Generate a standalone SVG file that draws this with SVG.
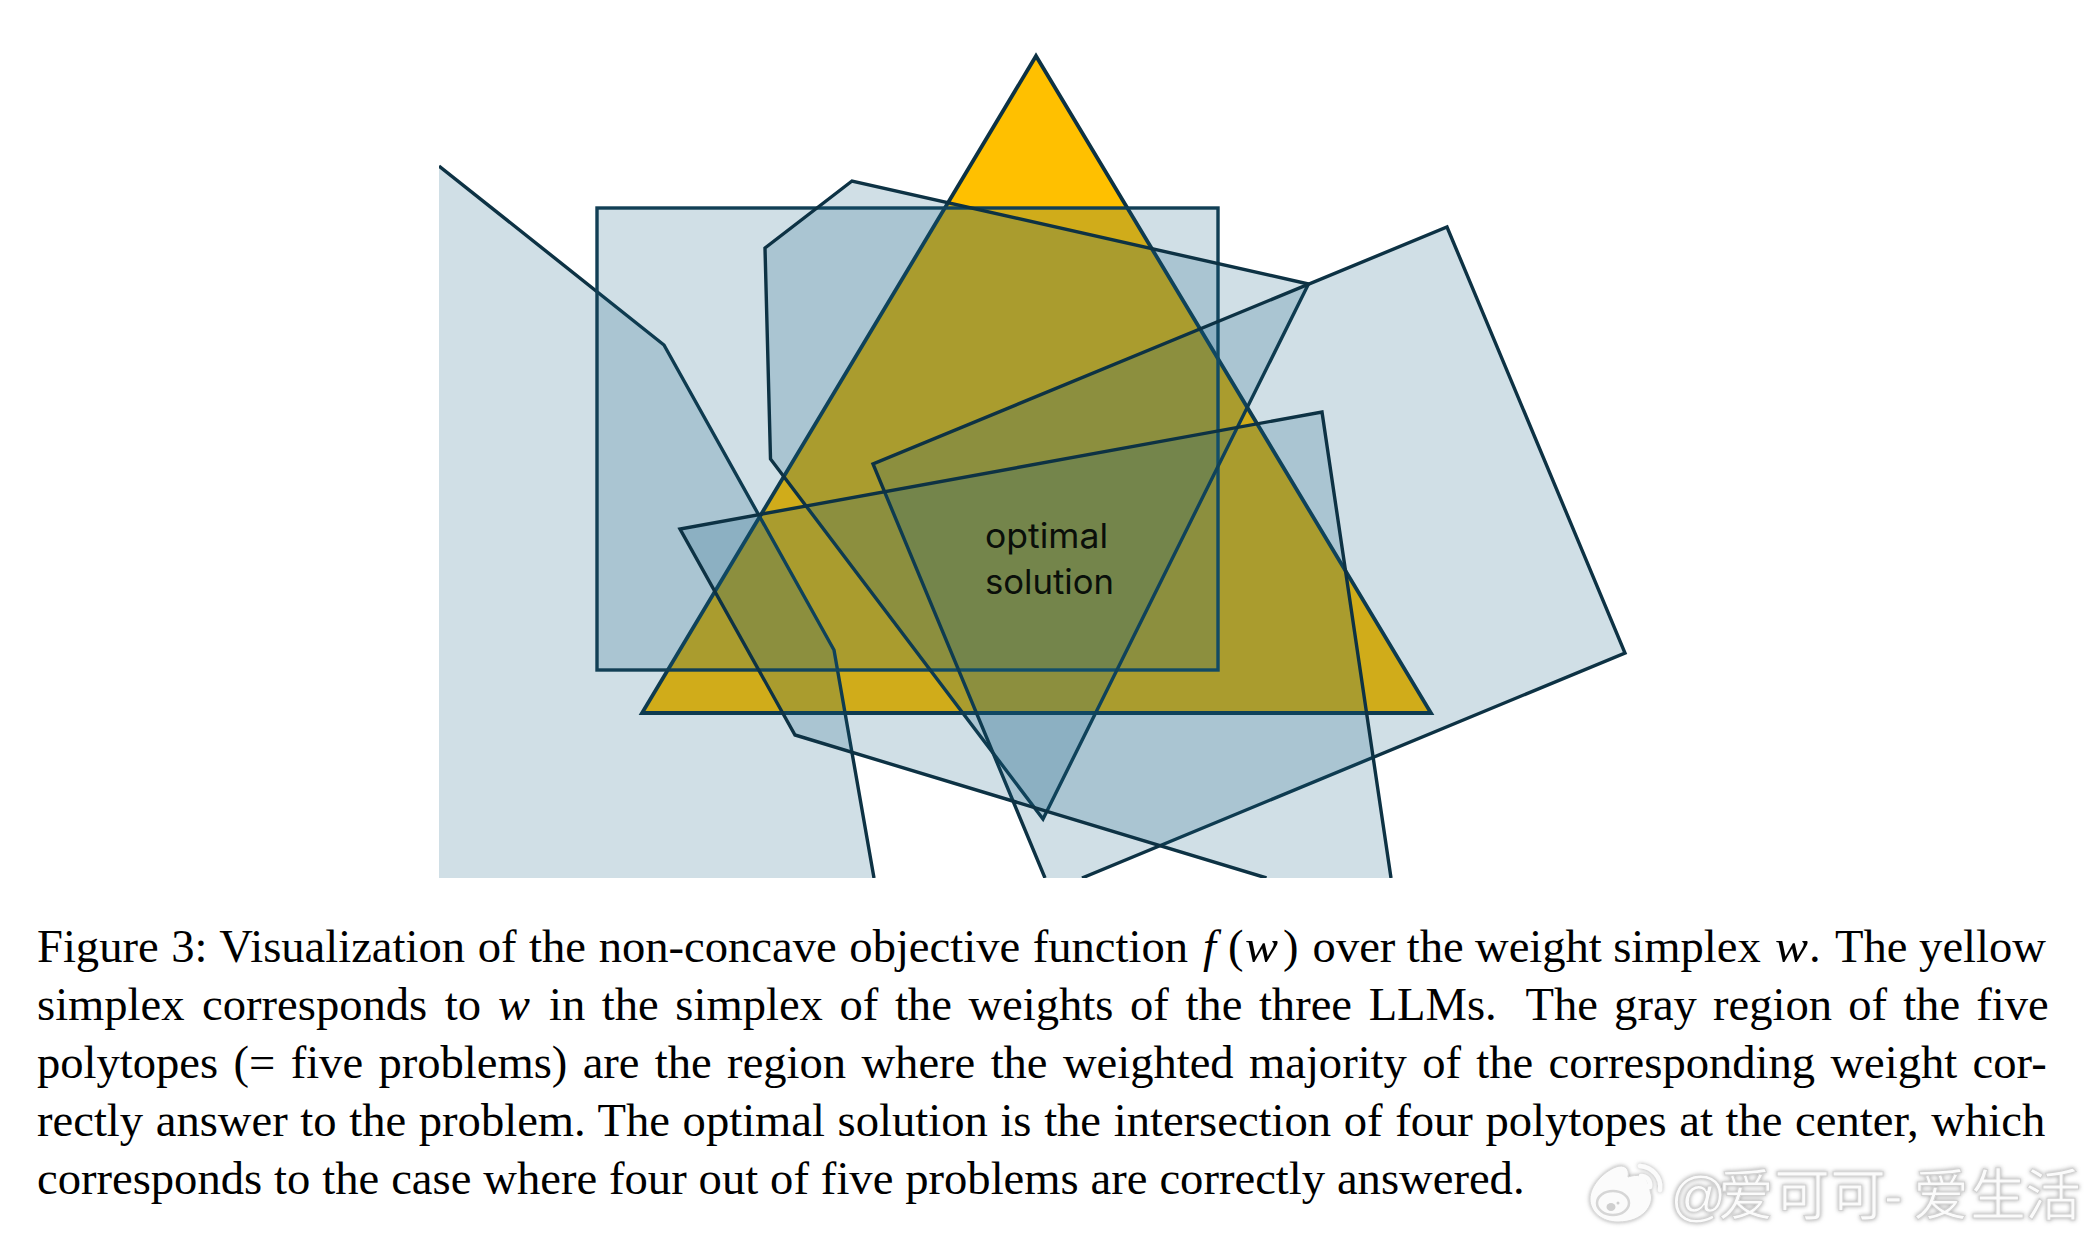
<svg xmlns="http://www.w3.org/2000/svg" width="2096" height="1244" viewBox="0 0 2096 1244">
<defs>
<clipPath id="fig"><rect x="439" y="0" width="1300" height="878"/></clipPath>
<filter id="glow" x="-10%" y="-30%" width="120%" height="160%"><feDropShadow dx="0" dy="0" stdDeviation="2" flood-color="#8a8a8a" flood-opacity=".75"/></filter>
</defs>
<style>
.f{fill:#156082;fill-opacity:.2;stroke:none}
.s{fill:none;stroke:#0D3244;stroke-width:3.4;stroke-linejoin:miter}
.b{fill:#156082;fill-opacity:.2;stroke:#123F55;stroke-width:3.4}
.p{fill:#156082;fill-opacity:.2;stroke:#0D3244;stroke-width:3.4}
.t{fill:#FFC000;stroke:#0D3244;stroke-width:3.8}
.c{font-family:"Liberation Serif","Times New Roman",serif;font-size:46.6px;fill:#000;font-variant-ligatures:common-ligatures;text-rendering:optimizeLegibility}
.i{font-style:italic}
.l{font-family:"Inter","Noto Sans",sans-serif;font-size:34px;fill:#0a0f0a}
.w{font-family:"Liberation Sans","Noto Sans CJK SC",sans-serif;font-size:56px;fill:#fbfbfb;stroke:#d2d2d2;stroke-width:1}
.wm{fill:#fbfbfb;stroke:#d8d8d8;stroke-width:1}
.wa{fill:none;stroke:#fbfbfb;stroke-width:4.5;stroke-linecap:round}
.wd{fill:#cfcfcf}
</style>
<rect width="2096" height="1244" fill="#fff"/>
<g clip-path="url(#fig)">
<g id="simplex"><polygon class="t" points="1036,56 1431,713 642,713"/></g>
<g id="polytope-1"><polygon class="f" points="439,166 664,345 834,650 874,878 439,878"/><polyline class="s" points="439,166 664,345 834,650 874,878"/></g>
<g id="polytope-2"><rect class="b" x="597" y="208" width="621" height="462"/></g>
<g id="polytope-3"><polygon class="p" points="852,181 765,248 770.500,459 1043,819 1308.500,284"/></g>
<g id="polytope-4"><polygon class="f" points="1447,227 1625,653 1082,878 1045,878 873,464"/><polyline class="s" points="1045,878 873,464 1447,227 1625,653 1082,878"/></g>
<g id="polytope-5"><polygon class="f" points="680,529 1322,412 1391,878 1266.500,878 795,735"/><polyline class="s" points="1391,878 1322,412 680,529 795,735 1266.500,878"/></g>
</g>
<g id="label"><text class="l" x="985" y="547.500" textLength="123" lengthAdjust="spacingAndGlyphs">optimal</text><text class="l" x="985" y="593.500" textLength="129" lengthAdjust="spacingAndGlyphs">solution</text></g>
<g id="caption">
<text class="c" x="37" y="962" word-spacing="1">Figure 3: Visualization of the non-concave objective function</text>
<text class="c i" x="1203" y="962">f</text><text class="c" x="1228" y="962">(</text><text class="c i" x="1245" y="962" textLength="33" lengthAdjust="spacingAndGlyphs">w</text><text class="c" x="1283" y="962">)</text>
<text class="c" x="1312.600" y="962" word-spacing="-.3">over the weight simplex</text>
<text class="c i" x="1775" y="962" textLength="33" lengthAdjust="spacingAndGlyphs">w</text><text class="c" x="1809" y="962">.</text>
<text class="c" x="1835" y="962">The yellow</text>
<text class="c" x="37" y="1020" word-spacing="5.9">simplex corresponds to</text>
<text class="c i" x="498" y="1020" textLength="32" lengthAdjust="spacingAndGlyphs">w</text>
<text class="c" x="549" y="1020" word-spacing="4.95">in the simplex of the weights of the three LLMs.</text>
<text class="c" x="1525.500" y="1020" word-spacing="4.5">The gray region of the five</text>
<text class="c" x="37" y="1078" word-spacing="3.68">polytopes (= five problems) are the region where the weighted majority of the corresponding weight cor-</text>
<text class="c" x="37" y="1136" word-spacing="1">rectly answer to the problem. The optimal solution is the intersection of four polytopes at the center, which</text>
<text class="c" x="37" y="1194" word-spacing=".3">corresponds to the case where four out of five problems are correctly answered.</text>
</g>
<g id="watermark" filter="url(#glow)">
<path class="wm" d="M1590,1199 C1590,1186 1603,1172 1616,1167 C1624,1164 1630,1168 1628,1177 C1636,1174 1646,1175 1648,1183 C1650,1188 1650,1192 1651,1194 C1654,1204 1644,1222 1618,1222 C1602,1222 1590,1212 1590,1199 Z"/>
<ellipse cx="1613" cy="1203" rx="16" ry="12" fill="none" stroke="#d6d6d6" stroke-width="2.5"/>
<ellipse class="wd" cx="1611" cy="1207" rx="4.500" ry="4"/>
<circle class="wd" cx="1618" cy="1203" r="1.500"/>
<path class="wa" d="M1640,1166 C1652,1167 1662,1177 1660,1190"/>
<path class="wa" d="M1641,1176 C1647,1176 1651,1181 1650,1187"/>
<text class="w" x="1670 1718 1774 1830 1884 1913 1970 2025" y="1215">@爱可可-爱生活</text>
</g>
</svg>
